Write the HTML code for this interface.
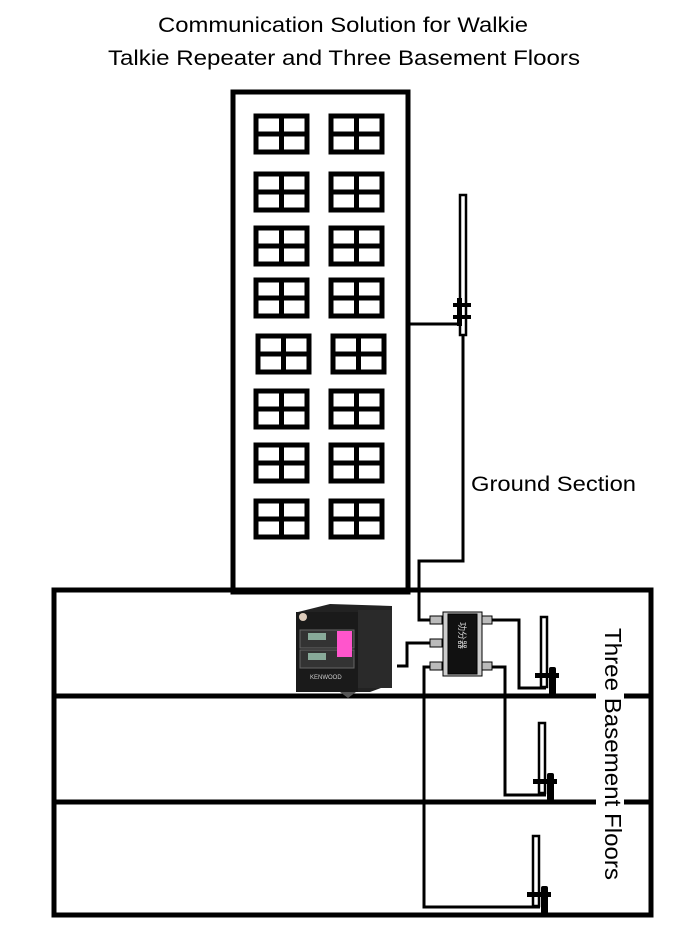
<!DOCTYPE html>
<html><head><meta charset="utf-8"><style>html,body{margin:0;padding:0;background:#fff}svg{display:block}</style></head>
<body>
<svg width="686" height="950" viewBox="0 0 686 950" xmlns="http://www.w3.org/2000/svg" font-family="Liberation Sans, Arial, sans-serif">
<rect width="686" height="950" fill="#fff"/>
<text x="343" y="32" font-size="21" text-anchor="middle" textLength="370" lengthAdjust="spacingAndGlyphs">Communication Solution for Walkie</text>
<text x="344" y="65" font-size="21" text-anchor="middle" textLength="472" lengthAdjust="spacingAndGlyphs">Talkie Repeater and Three Basement Floors</text>
<!-- building -->
<rect x="233" y="92" width="175" height="500" fill="none" stroke="#000" stroke-width="5"/>
<g fill="none" stroke="#000" stroke-width="5">
<g id="w"><rect x="256" y="116" width="51" height="36"/><line x1="281.5" y1="116" x2="281.5" y2="152"/><line x1="256" y1="134" x2="307" y2="134"/></g>
<use href="#w" x="75"/>
<use href="#w" y="58"/><use href="#w" x="75" y="58"/>
<use href="#w" y="112"/><use href="#w" x="75" y="112"/>
<use href="#w" y="164"/><use href="#w" x="75" y="164"/>
<use href="#w" x="2" y="220"/><use href="#w" x="77" y="220"/>
<use href="#w" y="275"/><use href="#w" x="75" y="275"/>
<use href="#w" y="329"/><use href="#w" x="75" y="329"/>
<use href="#w" y="385"/><use href="#w" x="75" y="385"/>
</g>
<!-- basement -->
<rect x="54" y="590" width="597" height="325" fill="none" stroke="#000" stroke-width="5"/>
<line x1="54" y1="696" x2="651" y2="696" stroke="#000" stroke-width="5"/>
<line x1="54" y1="802" x2="651" y2="802" stroke="#000" stroke-width="5"/>
<!-- gap for label -->
<rect x="596" y="620" width="28" height="265" fill="#fff"/>
<text transform="translate(605,628) rotate(90)" font-size="23" textLength="252" lengthAdjust="spacingAndGlyphs">Three Basement Floors</text>
<text x="471" y="491" font-size="21" textLength="165" lengthAdjust="spacingAndGlyphs">Ground Section</text>
<!-- wires -->
<g fill="none" stroke="#000" stroke-width="3">
<polyline points="408,324 460,324"/>
<polyline points="463,335 463,561 419,561 419,620 440,620"/>
<polyline points="440,643 407,643 407,666 397,666"/>
<polyline points="440,667 424,667 424,907 540,907"/>
<polyline points="484,620 519,620 519,688 546,688"/>
<polyline points="484,667 505,667 505,795 546,795"/>
</g>
<!-- top antenna -->
<rect x="460" y="195" width="6" height="140" fill="#fff" stroke="#000" stroke-width="2.5"/>
<rect x="453" y="303" width="18" height="4" fill="#000"/><rect x="453" y="315" width="18" height="4" fill="#000"/>
<rect x="457" y="298" width="5" height="28" fill="#000"/>
<line x1="463" y1="335" x2="463" y2="350" stroke="#000" stroke-width="3"/>
<!-- basement antennas -->
<g id="a">
<rect x="541" y="617" width="6" height="70" fill="#fff" stroke="#000" stroke-width="2.5"/>
<rect x="535" y="673" width="24" height="5" fill="#000"/>
<rect x="549" y="667" width="7" height="28" fill="#000" rx="2"/>
</g>
<use href="#a" x="-2" y="106"/>
<use href="#a" x="-8" y="219"/>
<!-- splitter -->
<g stroke="#000" stroke-width="1">
<rect x="430" y="616" width="12" height="8" fill="#bbb"/><rect x="430" y="639" width="12" height="8" fill="#bbb"/><rect x="430" y="662" width="12" height="8" fill="#bbb"/>
<rect x="480" y="616" width="12" height="8" fill="#bbb"/><rect x="480" y="662" width="12" height="8" fill="#bbb"/>
<rect x="443" y="612" width="39" height="64" fill="#ccc"/>
<rect x="448" y="614" width="29" height="60" fill="#111"/>
</g>
<text transform="translate(459,622) rotate(90)" font-size="9" fill="#ddd">功分器</text>
<!-- repeater -->
<polygon points="298,612 330,604 392,606 392,684 370,692 298,692" fill="#222"/>
<rect x="296" y="612" width="62" height="80" fill="#1a1a1a"/>
<rect x="358" y="610" width="34" height="78" fill="#2a2a2a"/>
<rect x="300" y="630" width="54" height="18" fill="#333" stroke="#666"/>
<rect x="300" y="650" width="54" height="18" fill="#333" stroke="#666"/>
<rect x="308" y="633" width="18" height="7" fill="#8a9"/><rect x="308" y="653" width="18" height="7" fill="#8a9"/>
<rect x="337" y="631" width="15" height="26" fill="#f5c"/>
<circle cx="303" cy="617" r="4" fill="#dcb"/>
<text x="310" y="679" font-size="6" fill="#ccc">KENWOOD</text>
<polygon points="340,692 356,692 348,698" fill="#555"/>
</svg>
</body></html>
